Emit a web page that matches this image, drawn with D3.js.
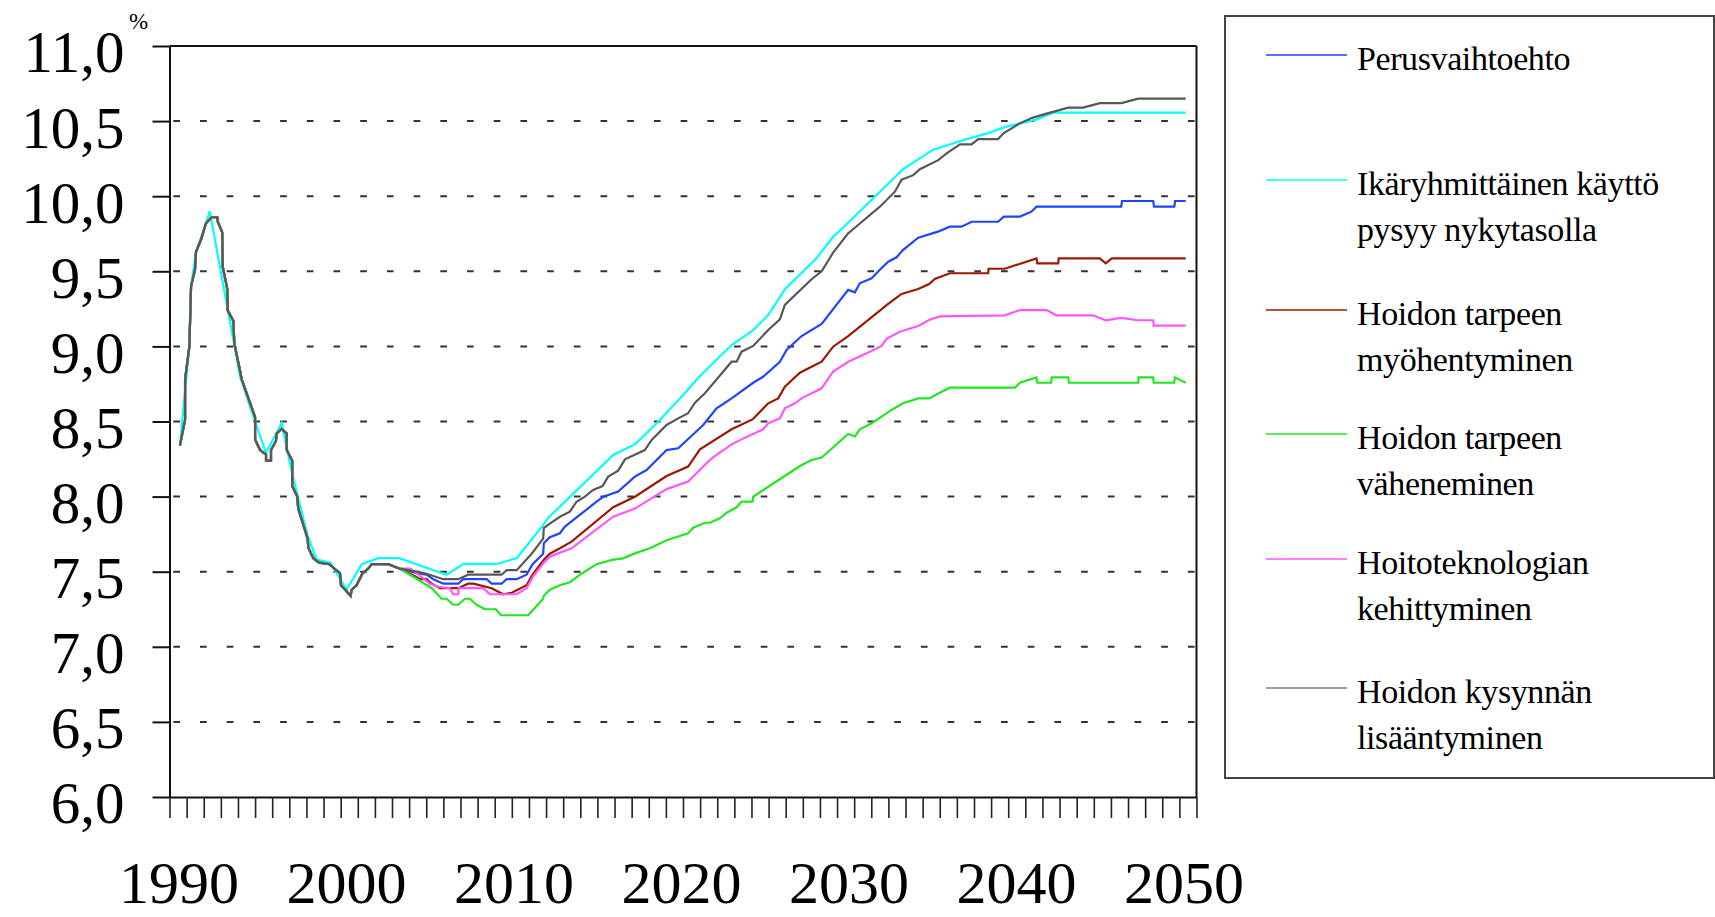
<!DOCTYPE html>
<html><head><meta charset="utf-8">
<script src="https://cdn.jsdelivr.net/npm/d3@7"></script>
<style>
html,body{margin:0;padding:0;background:#fff;}
svg{display:block;font-family:"Liberation Serif","Times New Roman",serif;}
</style></head>
<body>
<svg id="chart" width="1715" height="917"></svg>
<script>
// ---- data ----
const yTicks = [6.0, 6.5, 7.0, 7.5, 8.0, 8.5, 9.0, 9.5, 10.0, 10.5, 11.0];
const xLabels = [1990, 2000, 2010, 2020, 2030, 2040, 2050];
const seriesNames = ["Perusvaihtoehto", "Ikäryhmittäinen käyttö|pysyy nykytasolla", "Hoidon tarpeen|myöhentyminen", "Hoidon tarpeen|väheneminen", "Hoitoteknologian|kehittyminen", "Hoidon kysynnän|lisääntyminen"];
const seriesColors = ["#1f45fc", "#00ffff", "#991a00", "#22e622", "#ff55ff", "#585858"];
const legendColors = ["#1f45fc", "#00ffff", "#991a00", "#22e622", "#ff55ff", "#808080"];

const history = [[1990.61,8.34],[1990.91,8.51],[1990.91,8.78],[1991.16,9.0],[1991.26,9.40],[1991.49,9.51],[1991.55,9.63],[1991.84,9.71],[1992.13,9.82],[1992.46,9.86],[1992.79,9.86],[1992.82,9.83],[1993.08,9.76],[1993.11,9.53],[1993.38,9.38],[1993.40,9.24],[1993.73,9.17],[1993.79,9.02],[1994.12,8.84],[1994.22,8.78],[1995.0,8.53],[1995.0,8.38],[1995.29,8.31],[1995.64,8.28],[1995.64,8.24],[1995.93,8.24],[1995.93,8.31],[1996.22,8.37],[1996.26,8.42],[1996.55,8.45],[1996.85,8.42],[1996.85,8.31],[1997.17,8.24],[1997.17,8.07],[1997.46,8.0],[1997.52,7.92],[1998.07,7.72],[1998.11,7.66],[1998.40,7.59],[1998.73,7.56],[1999.33,7.55],[1999.96,7.49],[2000.02,7.41],[2000.58,7.34],[2000.64,7.38],[2000.93,7.41],[2001.28,7.49],[2001.61,7.52],[2001.81,7.55],[2002.30,7.55],[2002.78,7.55],[2003.46,7.52]];

const perus = [[2004.44,7.49],[2005.02,7.48],[2005.41,7.45],[2006.0,7.42],[2006.87,7.42],[2007.16,7.45],[2008.53,7.45],[2008.82,7.42],[2009.4,7.42],[2009.7,7.45],[2010.28,7.45],[2010.86,7.48],[2011.21,7.55],[2011.83,7.62],[2011.87,7.69],[2012.22,7.73],[2012.81,7.756],[2013.1,7.8],[2014.95,7.966],[2015.34,7.999],[2016.21,8.033],[2017.19,8.133],[2017.87,8.177],[2019.04,8.31],[2019.72,8.322],[2021.18,8.477],[2021.96,8.588],[2022.84,8.654],[2024.1,8.758],[2024.68,8.798],[2025.66,8.898],[2026.05,8.976],[2026.93,9.069],[2028.1,9.15],[2029.65,9.376],[2030.04,9.36],[2030.33,9.42],[2031.02,9.453],[2031.5,9.51],[2031.99,9.564],[2032.48,9.593],[2032.83,9.64],[2033.74,9.724],[2034.9,9.764],[2035.59,9.797],[2036.27,9.797],[2036.86,9.83],[2038.41,9.83],[2038.74,9.864],[2039.68,9.864],[2040.36,9.897],[2040.65,9.93],[2045.6,9.93],[2045.65,9.968],[2047.47,9.968],[2047.52,9.93],[2048.7,9.93],[2048.75,9.968],[2049.37,9.968]];

const ikaryhma = [[1990.61,8.34],[1991.16,9.0],[1991.26,9.40],[1991.55,9.63],[1992.13,9.82],[1992.35,9.9],[1994.12,8.80],[1995.0,8.5],[1995.64,8.29],[1996.55,8.49],[1997.17,8.15],[1998.07,7.74],[1998.6,7.58],[1999.4,7.56],[2000.35,7.38],[2001.23,7.55],[2002.2,7.59],[2003.42,7.59],[2006.19,7.48],[2007.16,7.55],[2009.07,7.55],[2010.28,7.59],[2011.83,7.81],[2012.13,7.86],[2012.81,7.933],[2015.92,8.277],[2017.19,8.348],[2018.46,8.488],[2020.01,8.677],[2020.95,8.798],[2022.84,9.009],[2024.1,9.109],[2024.98,9.209],[2025.95,9.38],[2027.8,9.587],[2028.77,9.73],[2029.16,9.77],[2031.5,10.03],[2032.86,10.18],[2034.61,10.31],[2036.56,10.38],[2037.83,10.42],[2038.8,10.46],[2040.65,10.51],[2041.62,10.556],[2049.37,10.556]];

const myohentyminen = [[2004.34,7.47],[2004.63,7.45],[2005.02,7.45],[2005.32,7.42],[2005.8,7.39],[2006.87,7.39],[2007.45,7.42],[2007.75,7.42],[2008.82,7.39],[2009.5,7.35],[2010.0,7.36],[2010.86,7.41],[2011.21,7.48],[2011.87,7.58],[2012.22,7.62],[2012.81,7.656],[2013.49,7.7],[2015.92,7.929],[2017.19,7.999],[2019.04,8.137],[2020.3,8.2],[2020.99,8.315],[2022.84,8.448],[2024.06,8.514],[2024.98,8.621],[2025.56,8.654],[2025.95,8.732],[2026.83,8.825],[2027.51,8.865],[2028.1,8.898],[2028.77,8.998],[2029.65,9.069],[2031.5,9.238],[2031.89,9.275],[2032.77,9.349],[2033.74,9.382],[2034.38,9.415],[2034.71,9.449],[2035.59,9.487],[2037.83,9.487],[2037.85,9.517],[2038.8,9.517],[2040.65,9.586],[2040.7,9.553],[2041.92,9.553],[2041.95,9.586],[2044.35,9.586],[2044.7,9.553],[2045.04,9.586],[2049.37,9.586]];

const vaheneminen = [[2004.34,7.46],[2005.32,7.39],[2005.9,7.32],[2006.19,7.32],[2006.57,7.28],[2006.87,7.28],[2007.26,7.32],[2007.55,7.32],[2007.94,7.28],[2008.43,7.25],[2009.07,7.25],[2009.36,7.21],[2010.96,7.21],[2011.83,7.32],[2011.87,7.34],[2012.22,7.38],[2012.8,7.41],[2013.4,7.43],[2013.98,7.48],[2014.95,7.55],[2015.92,7.58],[2016.51,7.589],[2017.19,7.622],[2018.07,7.656],[2019.04,7.71],[2020.3,7.756],[2020.6,7.793],[2021.28,7.826],[2021.57,7.826],[2022.15,7.855],[2022.55,7.893],[2023.13,7.929],[2023.42,7.966],[2024.06,7.966],[2024.1,7.999],[2026.83,8.204],[2027.51,8.244],[2028.1,8.26],[2029.65,8.417],[2030.04,8.40],[2030.33,8.448],[2031.02,8.488],[2032.18,8.577],[2032.86,8.621],[2033.74,8.654],[2034.38,8.654],[2035.0,8.692],[2035.59,8.725],[2039.39,8.725],[2039.68,8.758],[2040.65,8.794],[2040.7,8.758],[2041.5,8.758],[2041.55,8.794],[2042.5,8.794],[2042.55,8.758],[2046.59,8.758],[2046.62,8.794],[2047.47,8.794],[2047.5,8.758],[2048.7,8.758],[2048.73,8.794],[2049.37,8.758]];

const teknologia = [[2004.05,7.52],[2004.44,7.49],[2005.21,7.42],[2005.7,7.40],[2006.38,7.39],[2006.57,7.35],[2006.87,7.35],[2006.9,7.39],[2008.33,7.39],[2008.72,7.35],[2010.28,7.35],[2010.86,7.39],[2011.25,7.47],[2011.87,7.56],[2012.22,7.60],[2012.81,7.627],[2013.49,7.656],[2015.92,7.866],[2017.19,7.92],[2019.04,8.05],[2020.3,8.1],[2021.57,8.244],[2021.86,8.27],[2022.84,8.348],[2023.42,8.381],[2024.68,8.448],[2024.98,8.488],[2025.66,8.521],[2025.95,8.588],[2026.54,8.621],[2026.93,8.654],[2028.1,8.721],[2028.77,8.832],[2029.65,8.898],[2030.92,8.965],[2031.6,9.003],[2031.89,9.05],[2032.66,9.098],[2033.74,9.136],[2034.38,9.176],[2035.0,9.2],[2038.8,9.207],[2039.68,9.242],[2041.24,9.242],[2041.82,9.207],[2043.96,9.207],[2044.7,9.174],[2045.6,9.19],[2046.59,9.174],[2047.47,9.174],[2047.5,9.138],[2049.37,9.138]];

const kysynta = [[2004.92,7.49],[2006.0,7.45],[2006.87,7.45],[2007.45,7.48],[2009.4,7.48],[2009.7,7.51],[2010.28,7.51],[2011.16,7.62],[2011.83,7.72],[2011.87,7.79],[2012.22,7.82],[2012.81,7.866],[2013.39,7.9],[2013.78,7.966],[2014.27,8.0],[2014.75,8.044],[2015.3,8.07],[2015.63,8.133],[2016.21,8.173],[2016.61,8.248],[2017.77,8.31],[2018.17,8.377],[2019.04,8.477],[2019.72,8.521],[2020.3,8.555],[2020.7,8.625],[2021.28,8.688],[2022.84,8.898],[2023.13,8.898],[2023.42,8.965],[2024.1,9.003],[2024.98,9.109],[2025.66,9.18],[2025.95,9.276],[2027.51,9.447],[2028.1,9.5],[2028.77,9.624],[2029.65,9.753],[2030.04,9.79],[2031.5,9.93],[2032.38,10.03],[2032.77,10.11],[2033.45,10.14],[2033.84,10.18],[2034.91,10.24],[2035.4,10.285],[2036.18,10.345],[2036.86,10.345],[2037.24,10.38],[2038.41,10.38],[2038.74,10.42],[2039.68,10.485],[2040.36,10.52],[2041.24,10.55],[2042.5,10.59],[2043.38,10.59],[2044.35,10.62],[2045.62,10.62],[2046.59,10.65],[2049.37,10.65]];

// ---- chart ----
const svg = d3.select("#chart");
const x = d3.scaleLinear().domain([1990, 2050]).range([169.5, 1196.5]);
const y = d3.scaleLinear().domain([6, 11]).range([797, 46]);
const xLabelPos = d3.scaleLinear().domain([1990, 2050]).range([179, 1184]);
const fmt = v => d3.format(".1f")(v).replace(".", ",");

// gridlines
svg.append("g").selectAll("line").data(yTicks.filter(v => v > 6 && v < 11)).join("line")
  .attr("x1", x(1990) + 1).attr("x2", x(2050))
  .attr("y1", d => y(d)).attr("y2", d => y(d))
  .attr("stroke", "#333").attr("stroke-width", 2)
  .attr("stroke-dasharray", "6.7 20").attr("stroke-dashoffset", -2.8);

// y axis
const yAxis = svg.append("g").attr("transform", `translate(${x(1990)},0)`)
  .call(d3.axisLeft(y).tickValues(yTicks).tickFormat(fmt).tickSize(17).tickPadding(28).tickSizeOuter(0));
yAxis.select(".domain").attr("stroke", "#111").attr("stroke-width", 2);
yAxis.selectAll(".tick line").attr("stroke", "#111").attr("stroke-width", 2);
yAxis.selectAll(".tick text").attr("font-size", 59).attr("fill", "#000").attr("dy", "0.44em")
  .attr("font-family", "Liberation Serif, Times New Roman, serif");

// x axis ticks
const xAxis = svg.append("g").attr("transform", `translate(0,${y(6)})`)
  .call(d3.axisBottom(x).tickValues(d3.range(1990, 2051)).tickFormat("").tickSize(21).tickSizeOuter(0));
xAxis.select(".domain").attr("stroke", "#111").attr("stroke-width", 2);
xAxis.selectAll(".tick line").attr("stroke", "#222").attr("stroke-width", 1.6);

// frame top & right
svg.append("line").attr("x1", x(1990)).attr("x2", x(2050)).attr("y1", y(11)).attr("y2", y(11))
  .attr("stroke", "#111").attr("stroke-width", 2);
svg.append("line").attr("x1", x(2050)).attr("x2", x(2050)).attr("y1", y(11)).attr("y2", y(6))
  .attr("stroke", "#111").attr("stroke-width", 2);

// x labels
svg.append("g").selectAll("text").data(xLabels).join("text")
  .attr("x", d => xLabelPos(d)).attr("y", 903)
  .attr("text-anchor", "middle").attr("font-size", 60).attr("fill", "#000")
  .text(d => d);

// % unit
svg.append("text").attr("x", 129).attr("y", 29).attr("font-size", 23).attr("fill", "#000").text("%");

// lines
const seriesData = [
  history.concat(perus),
  ikaryhma,
  history.concat(myohentyminen),
  history.concat(vaheneminen),
  history.concat(teknologia),
  history.concat(kysynta)
];
const line = d3.line().x(d => x(d[0])).y(d => y(d[1]));
const drawOrder = [1, 0, 2, 4, 3, 5];
svg.append("g").selectAll("path").data(drawOrder).join("path")
  .attr("d", i => line(seriesData[i]))
  .attr("fill", "none").attr("stroke", i => seriesColors[i])
  .attr("stroke-width", 2.2).attr("stroke-linejoin", "miter");

// legend
svg.append("rect").attr("x", 1225).attr("y", 16).attr("width", 489).attr("height", 762)
  .attr("fill", "#fff").attr("stroke", "#444").attr("stroke-width", 2);
const legendY = [55, 180, 310, 434, 559, 688];
const lg = svg.append("g").selectAll("g").data(seriesNames).join("g")
  .attr("transform", (d, i) => `translate(0,${legendY[i]})`);
lg.append("line").attr("x1", 1266).attr("x2", 1347).attr("y1", 0).attr("y2", 0)
  .attr("stroke", (d, i) => legendColors[i]).attr("stroke-width", 1.6);
lg.append("text").attr("x", 1357).attr("y", 15).attr("font-size", 34).attr("fill", "#000")
  .attr("letter-spacing", "-0.4")
  .selectAll("tspan").data(d => d.split("|")).join("tspan")
  .attr("x", 1357).attr("dy", (d, j) => j === 0 ? 0 : 46).text(d => d);
</script>
</body></html>
